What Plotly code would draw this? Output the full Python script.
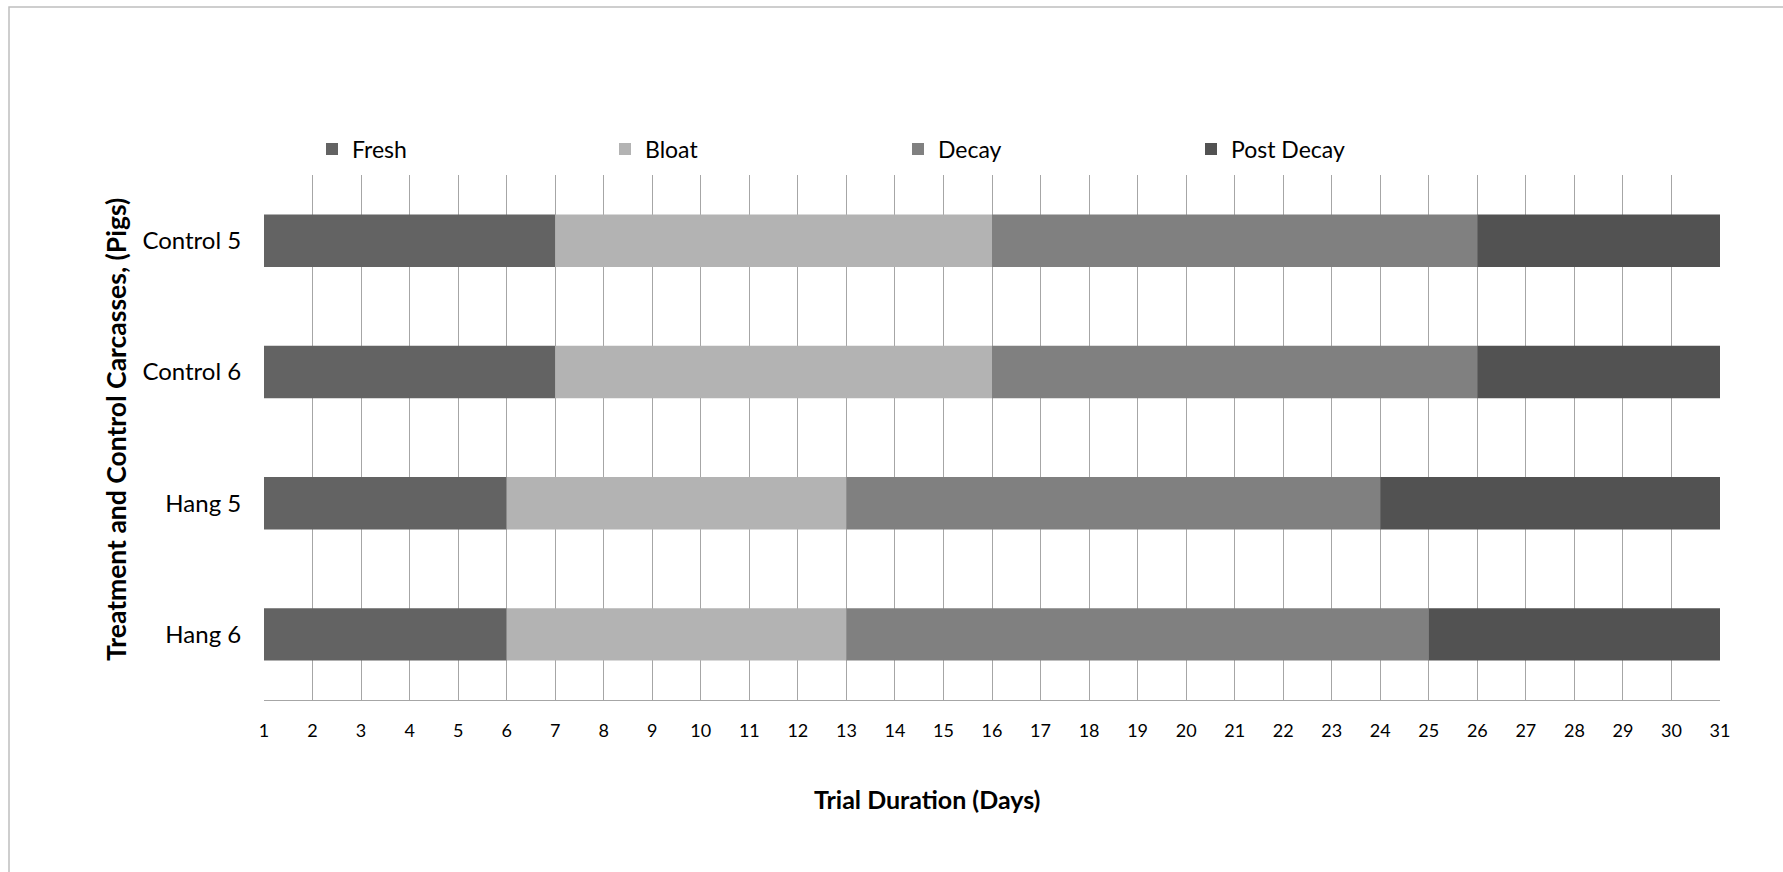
import plotly.graph_objects as go

# Data
carcasses = ["Control 5", "Control 6", "Hang 5", "Hang 6"]
stages = ["Fresh", "Bloat", "Decay", "Post Decay"]
start_day = 1
fresh_days = [6, 6, 5, 5]
bloat_days = [9, 9, 7, 7]
decay_days = [10, 10, 11, 12]
post_decay_days = [5, 5, 7, 6]
stage_colors = ["#636363", "#b3b3b3", "#808080", "#525252"]
x_ticks = list(range(1, 32))
x_title = "Trial Duration (Days)"
y_title = "Treatment and Control Carcasses, (Pigs)"

durations = [fresh_days, bloat_days, decay_days, post_decay_days]

fig = go.Figure()
bases = [start_day] * len(carcasses)
for name, dur, col in zip(stages, durations, stage_colors):
    fig.add_trace(go.Bar(
        y=carcasses, x=dur, base=list(bases), orientation="h",
        name=name, marker=dict(color=col, line=dict(width=0)),
    ))
    bases = [b + d for b, d in zip(bases, dur)]

FONT = "Lato, Carlito, Calibri, sans-serif"
L, R, T, B = 264, 63, 175, 172
W, H = 1783, 872
pw = W - L - R
ph = H - T - B

def px_x(p):
    return (p - L) / pw

def px_y(p):
    return (H - B - p) / ph

fig.update_layout(
    width=W, height=H,
    margin=dict(l=L, r=R, t=T, b=B, pad=0),
    paper_bgcolor="white", plot_bgcolor="white",
    barmode="overlay", bargap=0.6,
    font=dict(family=FONT, size=20, color="black"),
    showlegend=True,
    legend=dict(
        orientation="h", x=px_x(312), y=px_y(149), xanchor="left", yanchor="middle",
        entrywidth=248, entrywidthmode="pixels",
        font=dict(family=FONT, size=23, color="black"),
        traceorder="normal", bgcolor="rgba(0,0,0,0)",
    ),
    xaxis=dict(
        range=[1, 31], tickmode="array", tickvals=x_ticks,
        ticktext=[str(v) for v in x_ticks],
        showgrid=True, gridcolor="#a6a6a6", gridwidth=1,
        showline=True, linecolor="#a6a6a6", linewidth=1,
        ticks="outside", ticklen=14, tickcolor="rgba(0,0,0,0)",
        tickfont=dict(family=FONT, size=18, color="black"),
        zeroline=False,
    ),
    yaxis=dict(
        categoryorder="array", categoryarray=carcasses, autorange="reversed",
        showgrid=False, showline=False, zeroline=False,
        ticks="outside", ticklen=17, tickcolor="rgba(0,0,0,0)",
        tickfont=dict(family=FONT, size=24, color="black"),
    ),
    annotations=[
        dict(text="<b>%s</b>" % x_title, xref="paper", yref="paper",
             x=px_x(927), y=px_y(799), xanchor="center", yanchor="middle",
             showarrow=False, font=dict(family=FONT, size=25, color="black")),
        dict(text="<b>%s</b>" % y_title, xref="paper", yref="paper",
             x=px_x(116), y=px_y(430), xanchor="center", yanchor="middle",
             textangle=-90, showarrow=False,
             font=dict(family=FONT, size=26.5, color="black")),
    ],
    shapes=[dict(
        type="rect", xref="paper", yref="paper",
        x0=px_x(9), x1=px_x(1800), y0=px_y(890), y1=px_y(7),
        line=dict(color="#bfbfbf", width=1.5), fillcolor="rgba(0,0,0,0)", layer="below",
    )],
)

fig.write_html(
    "out.html",
    config={"displayModeBar": False},
    post_script="document.body.style.margin='0';document.body.style.overflow='hidden';",
)
